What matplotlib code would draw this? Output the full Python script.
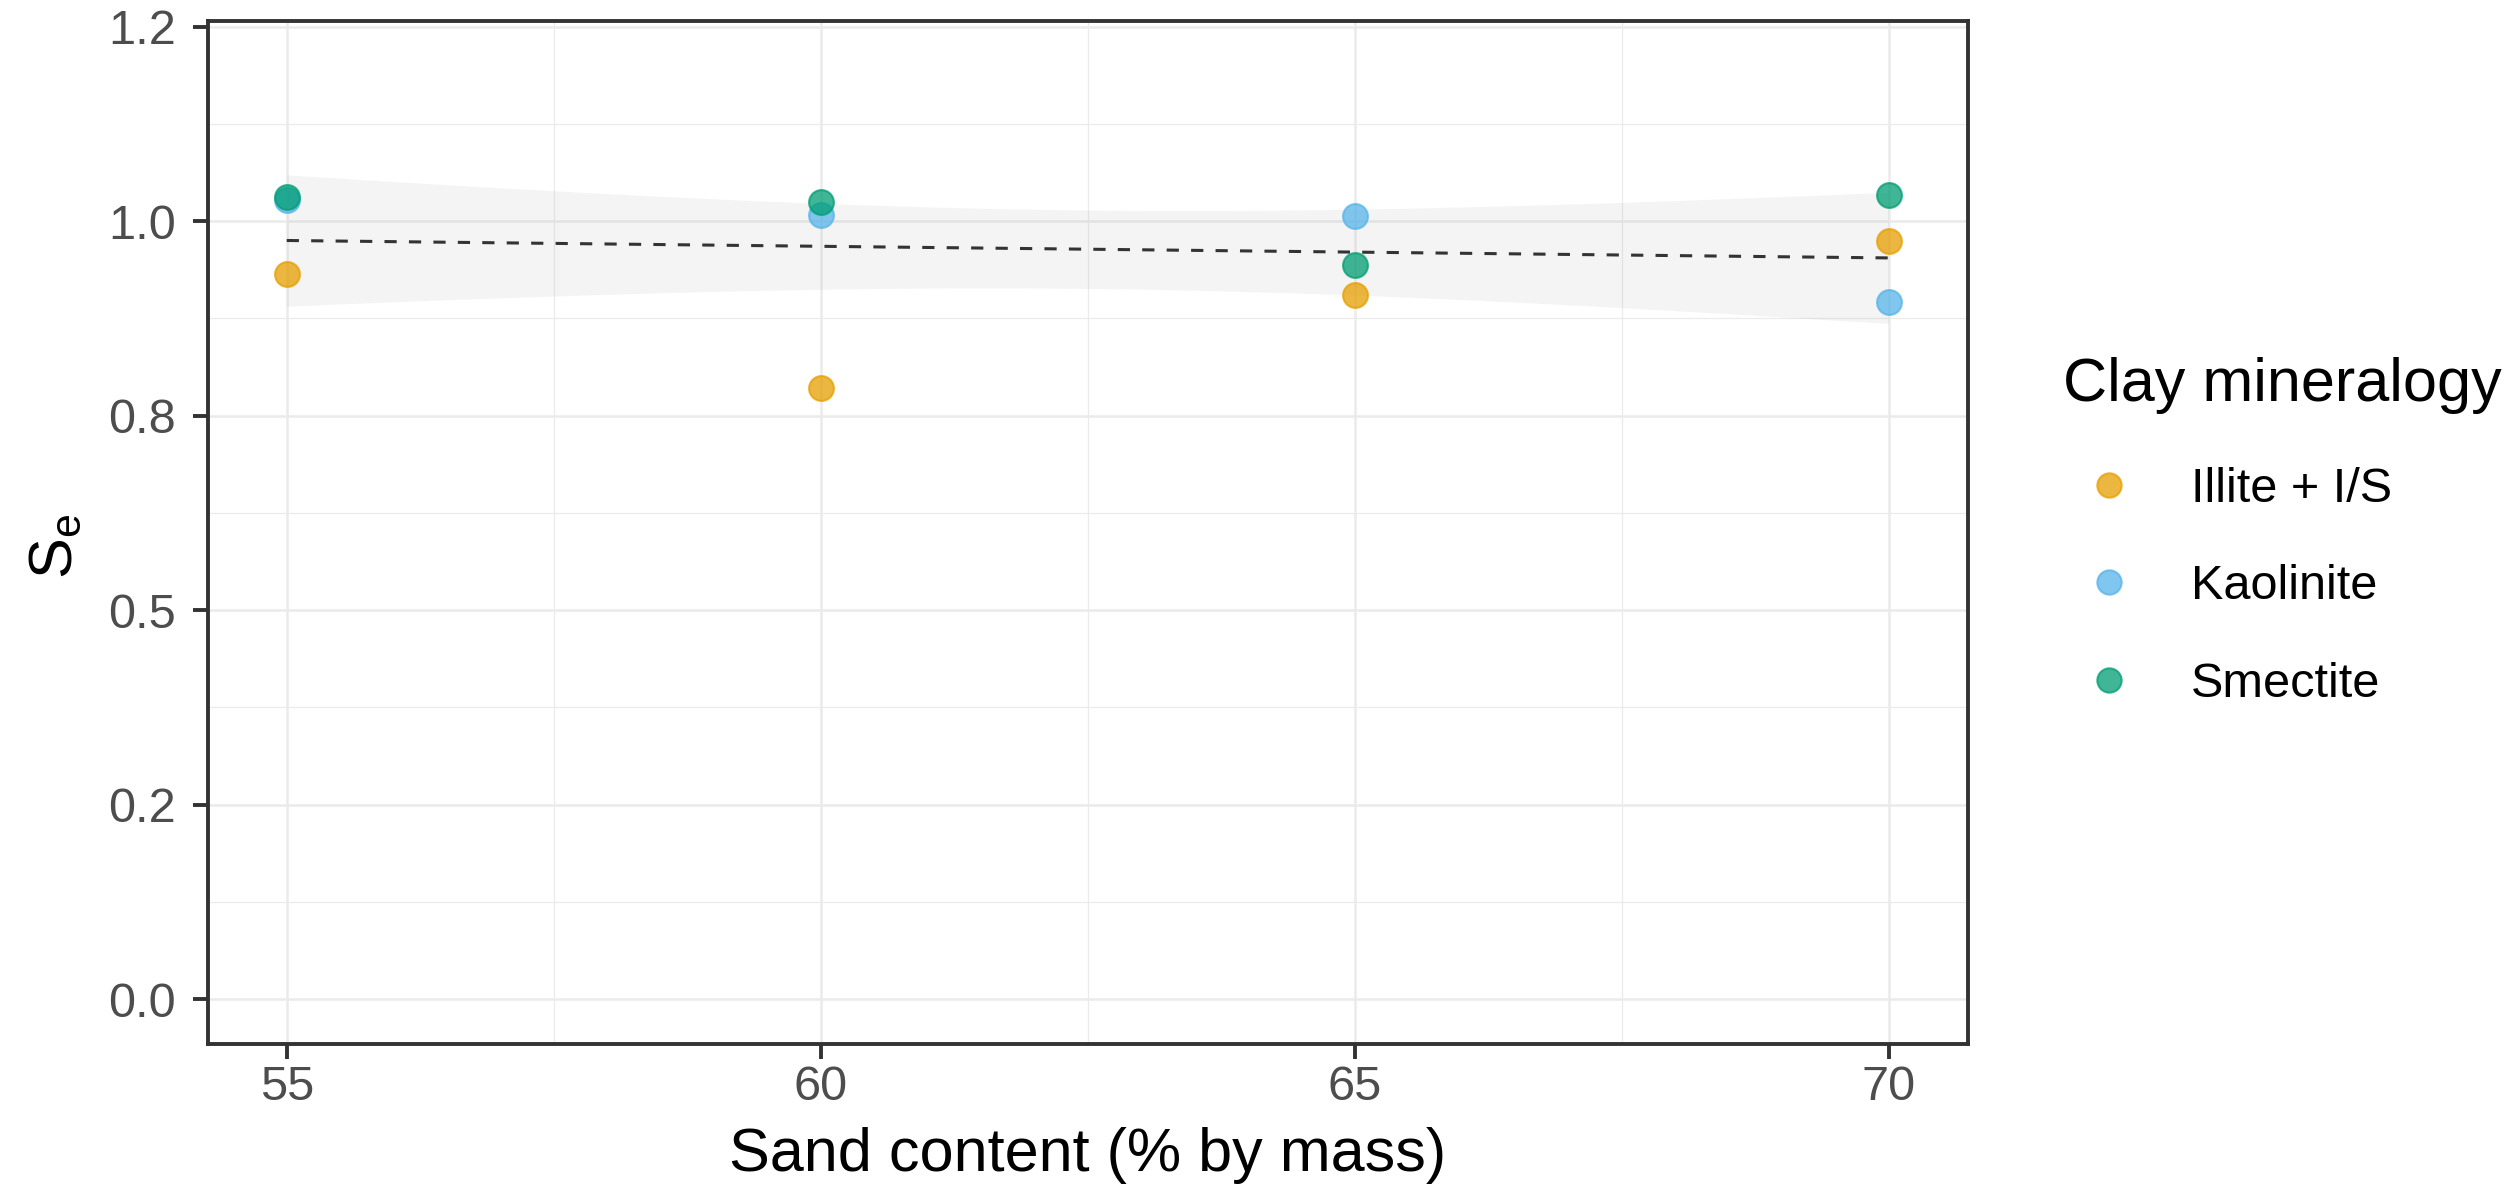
import numpy as np
import matplotlib
matplotlib.use("Agg")
import matplotlib.pyplot as plt
from matplotlib.lines import Line2D

plt.rcParams['font.family'] = ['Liberation Sans', 'DejaVu Sans']
plt.rcParams['mathtext.default'] = 'regular'

# data
sand = [55, 60, 65, 70]
illite = [0.932, 0.785, 0.905, 0.974]
kaolinite = [1.027, 1.008, 1.006, 0.896]
smectite = [1.031, 1.025, 0.944, 1.033]

minerals = ['Illite + I/S', 'Kaolinite', 'Smectite']
colors = ['#E69F00', '#56B4E9', '#009E73']

y_ticks = [0, 0.25, 0.5, 0.75, 1.0, 1.25]
y_ticklabels = ['0.0', '0.2', '0.5', '0.8', '1.0', '1.2']
x_ticks = [55, 60, 65, 70]

fig = plt.figure(figsize=(25.19, 11.87), dpi=100)
ax = fig.add_axes([0.08245, 0.12022, 0.69865, 0.86234])

# points
for vals, col in zip([illite, kaolinite, smectite], colors):
    ax.scatter(sand, vals, s=320, color=col, alpha=0.75, edgecolor=col,
               linewidth=1.5, zorder=3)

# linear fit with 95% confidence band (pooled over all minerals)
xs = np.repeat(sand, 3).astype(float)
ys = np.array([v for trip in zip(illite, kaolinite, smectite) for v in trip])
slope, icpt = np.polyfit(xs, ys, 1)
resid = ys - (slope * xs + icpt)
n = len(xs)
s = np.sqrt(np.sum(resid ** 2) / (n - 2))
sxx = np.sum((xs - xs.mean()) ** 2)
xg = np.linspace(min(sand), max(sand), 80)
yg = slope * xg + icpt
se = s * np.sqrt(1 / n + (xg - xs.mean()) ** 2 / sxx)
t = 2.228  # t(0.975, df=10)
ax.fill_between(xg, yg - t * se, yg + t * se, color='#999999', alpha=0.1,
                linewidth=0, zorder=2)
ax.plot(xg, yg, color='#333333', linewidth=2.2, dashes=(4, 4), zorder=4)

# axes styling (theme_bw look)
ax.set_xlim(54.26, 70.74)
ax.set_ylim(-0.058, 1.2575)
ax.set_xticks(x_ticks)
ax.set_xticks([57.5, 62.5, 67.5], minor=True)
ax.set_yticks(y_ticks)
ax.set_yticklabels(y_ticklabels)
ax.set_yticks(np.arange(0.125, 1.25, 0.25), minor=True)
ax.grid(which='major', color='#EBEBEB', linewidth=1.8)
ax.grid(which='minor', color='#EBEBEB', linewidth=0.9)
ax.set_axisbelow(True)
for sp in ax.spines.values():
    sp.set_color('#333333')
    sp.set_linewidth(2.8)
ax.tick_params(which='major', length=11, width=2.8, color='#333333',
               labelsize=35, labelcolor='#4D4D4D')
ax.tick_params(axis='x', pad=4)
ax.tick_params(axis='y', pad=12)
ax.tick_params(which='minor', length=0)

ax.set_xlabel('Sand content (% by mass)', fontsize=44, labelpad=12)
ax.set_ylabel('$S_e$', fontsize=44)
ax.yaxis.set_label_coords(-0.07, 0.486)

handles = [Line2D([], [], linestyle='none', marker='o', markersize=17.5,
                  markerfacecolor=c, markeredgecolor=c, alpha=0.75,
                  markeredgewidth=1.5) for c in colors]
leg = fig.legend(handles, minerals, loc='upper left',
                 bbox_to_anchor=(2063 / 2519, 0.699), frameon=False,
                 title='Clay mineralogy', alignment='left',
                 fontsize=35, title_fontsize=44, handlelength=1.88,
                 handletextpad=0.75, labelspacing=1.08, borderpad=0,
                 borderaxespad=0)

fig.savefig('out.png', dpi=100)
